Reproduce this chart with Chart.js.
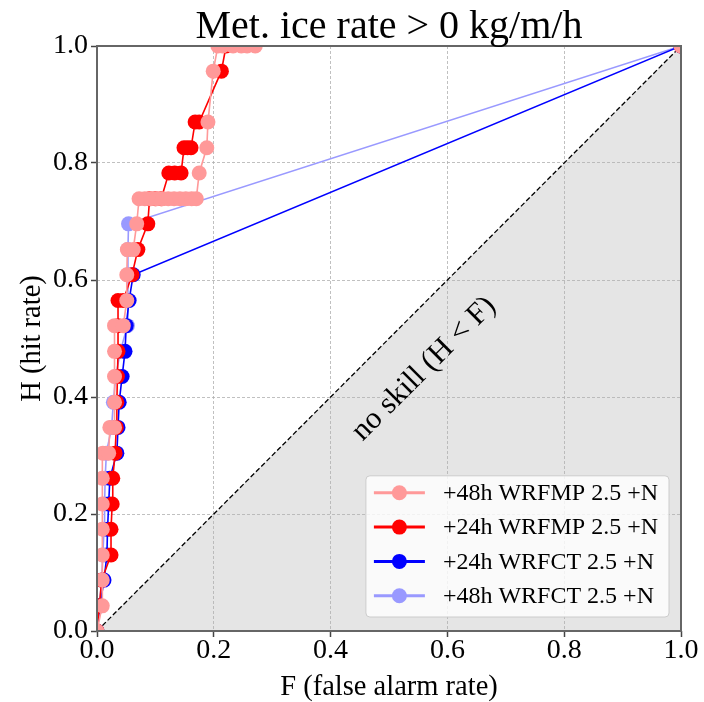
<!DOCTYPE html>
<html>
<head>
<meta charset="utf-8">
<script src="https://cdn.jsdelivr.net/npm/chart.js@4.4.0/dist/chart.umd.min.js"></script>
<style>
  html, body { margin: 0; padding: 0; background: #fff; }
</style>
</head>
<body>
<canvas id="roc" width="704" height="702"></canvas>
<script>
// ROC curves, F = false alarm rate, H = hit rate
const titleText = 'Met. ice rate > 0 kg/m/h';
const xTitle = 'F (false alarm rate)';
const yTitle = 'H (hit rate)';
const tickVals = [0.0, 0.2, 0.4, 0.6, 0.8, 1.0];

// +48h WRFMP 2.5 +N
const fMP48 = [0.000, 0.009, 0.009, 0.009, 0.009, 0.009, 0.009, 0.010, 0.020, 0.022, 0.030, 0.030, 0.030, 0.030, 0.030,
  0.045, 0.051, 0.051, 0.052, 0.062, 0.068,
  0.072, 0.082, 0.092, 0.102, 0.112, 0.122, 0.132, 0.142, 0.152, 0.162, 0.170,
  0.175, 0.188, 0.190, 0.199, 0.207, 0.215, 0.233, 0.247, 0.257, 0.271, 1.000];
const hMP48 = [0.000, 0.043, 0.087, 0.130, 0.174, 0.217, 0.261, 0.304, 0.304, 0.348, 0.348, 0.391, 0.435, 0.478, 0.522,
  0.522, 0.565, 0.609, 0.652, 0.652, 0.696,
  0.739, 0.739, 0.739, 0.739, 0.739, 0.739, 0.739, 0.739, 0.739, 0.739, 0.739,
  0.783, 0.826, 0.870, 0.957, 1.000, 1.000, 1.000, 1.000, 1.000, 1.000, 1.000];

// +24h WRFMP 2.5 +N
const fMP24 = [0.000, 0.004, 0.008, 0.024, 0.024, 0.026, 0.027, 0.031, 0.033, 0.034, 0.035, 0.036, 0.036, 0.036, 0.045,
  0.060, 0.070, 0.087, 0.090, 0.100, 0.110, 0.123, 0.133, 0.144, 0.149, 0.155, 0.161, 0.168, 0.175, 0.213, 0.221, 1.000];
const hMP24 = [0.000, 0.043, 0.087, 0.130, 0.174, 0.217, 0.261, 0.304, 0.348, 0.391, 0.435, 0.478, 0.522, 0.565, 0.565,
  0.609, 0.652, 0.696, 0.739, 0.739, 0.739, 0.783, 0.783, 0.783, 0.826, 0.826, 0.826, 0.870, 0.870, 0.957, 1.000, 1.000];

// +24h WRFCT 2.5 +N
const fCT24 = [0.000, 0.005, 0.012, 0.017, 0.018, 0.020, 0.022, 0.034, 0.036, 0.038, 0.043, 0.048, 0.050, 0.055, 0.062, 1.000];
const hCT24 = [0.000, 0.043, 0.087, 0.130, 0.174, 0.217, 0.261, 0.304, 0.348, 0.391, 0.435, 0.478, 0.522, 0.565, 0.609, 1.000];

// +48h WRFCT 2.5 +N
const fCT48 = [0.000, 0.004, 0.008, 0.010, 0.012, 0.013, 0.014, 0.016, 0.025, 0.028, 0.032, 0.040, 0.052, 0.053, 0.053, 0.053, 0.054, 1.000];
const hCT48 = [0.000, 0.043, 0.087, 0.130, 0.174, 0.217, 0.261, 0.304, 0.348, 0.391, 0.435, 0.478, 0.522, 0.565, 0.609, 0.652, 0.696, 1.000];

// no skill diagonal
const noSkillF = [0, 1];
const noSkillH = [0, 1];
const noSkillText = 'no skill (H < F)';
const noSkillTextAt = [0.56, 0.448];

const serif = "'Liberation Serif', 'Times New Roman', 'DejaVu Serif', serif";

function pts(f, h) {
  return f.map((v, i) => ({ x: v, y: h[i] }));
}

function rocSet(label, f, h, color) {
  return {
    label: label,
    data: pts(f, h),
    showLine: true,
    borderColor: color,
    backgroundColor: color,
    borderWidth: 1.6,
    pointRadius: 7.5,
    pointBorderWidth: 0,
    pointHoverRadius: 7.5,
    clip: 0,
    inLegend: true
  };
}

const datasets = [
  rocSet('+48h WRFMP 2.5 +N', fMP48, hMP48, '#ff9999'),
  rocSet('+24h WRFMP 2.5 +N', fMP24, hMP24, '#ff0000'),
  rocSet('+24h WRFCT 2.5 +N', fCT24, hCT24, '#0000ff'),
  rocSet('+48h WRFCT 2.5 +N', fCT48, hCT48, '#9999ff'),
  {
    label: 'no skill',
    data: pts(noSkillF, noSkillH),
    showLine: true,
    borderColor: '#000',
    borderWidth: 1.3,
    borderDash: [5, 2.5],
    pointRadius: 0,
    clip: 0,
    inLegend: false
  }
];

// grey area under the no-skill line, drawn before the grid
const shadePlugin = {
  id: 'shade',
  beforeDraw(chart) {
    const { ctx, scales: { x, y } } = chart;
    ctx.save();
    ctx.fillStyle = '#e5e5e5';
    ctx.beginPath();
    ctx.moveTo(x.getPixelForValue(noSkillF[0]), y.getPixelForValue(noSkillH[0]));
    ctx.lineTo(x.getPixelForValue(noSkillF[1]), y.getPixelForValue(noSkillH[0]));
    ctx.lineTo(x.getPixelForValue(noSkillF[1]), y.getPixelForValue(noSkillH[1]));
    ctx.closePath();
    ctx.fill();
    ctx.restore();
  }
};

// frame round the axes, rotated label and the title over the plot area
const framePlugin = {
  id: 'frame',
  afterDatasetsDraw(chart) {
    const { ctx, chartArea: a, scales: { x, y } } = chart;
    ctx.save();
    const x0 = x.getPixelForValue(noSkillF[0]), y0 = y.getPixelForValue(noSkillH[0]);
    const x1 = x.getPixelForValue(noSkillF[1]), y1 = y.getPixelForValue(noSkillH[1]);
    const ang = Math.atan2(y1 - y0, x1 - x0);
    ctx.translate(x.getPixelForValue(noSkillTextAt[0]), y.getPixelForValue(noSkillTextAt[1]));
    ctx.rotate(ang);
    ctx.font = '30.5px ' + serif;
    ctx.fillStyle = '#000';
    ctx.textAlign = 'center';
    ctx.textBaseline = 'middle';
    ctx.fillText(noSkillText, 0, 0);
    ctx.restore();

    ctx.save();
    ctx.strokeStyle = '#666';
    ctx.lineWidth = 2;
    ctx.strokeRect(a.left, a.top, a.right - a.left, a.bottom - a.top);

    ctx.font = '40px ' + serif;
    ctx.fillStyle = '#000';
    ctx.textAlign = 'center';
    ctx.textBaseline = 'alphabetic';
    ctx.fillText(titleText, (a.left + a.right) / 2, a.top - 8);
    ctx.restore();
  }
};

const legendPlugin = {
  id: 'boxLegend',
  afterDraw(chart) {
    const { ctx, chartArea: a } = chart;
    const items = chart.data.datasets.filter(d => d.inLegend);
    ctx.save();
    ctx.font = '24px ' + serif;
    const textW = Math.max(...items.map(d => ctx.measureText(d.label).width));
    const rowH = 34.3;
    const w = 8 + 51 + 18 + textW + 11;
    const h = rowH * items.length + 4;
    const right = a.right - 12, bottom = a.bottom - 14;
    const left = right - w, top = bottom - h;
    ctx.beginPath();
    ctx.roundRect(left, top, w, h, 4);
    ctx.fillStyle = 'rgba(255,255,255,0.8)';
    ctx.fill();
    ctx.strokeStyle = '#cccccc';
    ctx.lineWidth = 1;
    ctx.stroke();
    items.forEach((d, i) => {
      const cy = top + 17 + i * rowH;
      ctx.strokeStyle = d.borderColor;
      ctx.lineWidth = 3;
      ctx.beginPath();
      ctx.moveTo(left + 8, cy);
      ctx.lineTo(left + 59, cy);
      ctx.stroke();
      ctx.fillStyle = d.borderColor;
      ctx.beginPath();
      ctx.arc(left + 33.5, cy, 7.5, 0, Math.PI * 2);
      ctx.fill();
      ctx.fillStyle = '#000';
      ctx.textAlign = 'left';
      ctx.textBaseline = 'middle';
      ctx.fillText(d.label, left + 77, cy + 1);
    });
    ctx.restore();
  }
};

function axisOpts(titleText, isX) {
  return {
    type: 'linear',
    min: 0,
    max: 1,
    afterFit(s) {
      if (isX) s.height = 71; else s.width = 97;
    },
    afterBuildTicks(s) {
      s.ticks = tickVals.map(v => ({ value: v }));
    },
    ticks: {
      autoSkip: false,
      maxRotation: 0,
      color: '#000',
      padding: isX ? 0 : 3,
      font: { family: serif, size: 28, lineHeight: 1 },
      callback: v => v.toFixed(1)
    },
    grid: {
      color: '#b0b0b0',
      lineWidth: 0.8,
      tickLength: 6,
      tickColor: '#444',
      tickWidth: 1.5,
      tickBorderDash: []
    },
    border: { display: false, dash: [3, 2] },
    title: {
      display: true,
      text: titleText,
      color: '#000',
      font: { family: serif, size: 28.5, lineHeight: 1 },
      padding: isX ? { top: 0, bottom: 0 } : { top: 18, bottom: 0 }
    }
  };
}

const ctx = document.getElementById('roc').getContext('2d');
new Chart(ctx, {
  type: 'scatter',
  data: { datasets: datasets },
  options: {
    responsive: false,
    animation: false,
    events: [],
    layout: { padding: { left: 0, right: 23, top: 46, bottom: 0 } },
    plugins: {
      legend: { display: false },
      tooltip: { enabled: false },
      title: { display: false }
    },
    scales: {
      x: axisOpts(xTitle, true),
      y: axisOpts(yTitle, false)
    }
  },
  plugins: [shadePlugin, framePlugin, legendPlugin]
});
</script>
</body>
</html>
